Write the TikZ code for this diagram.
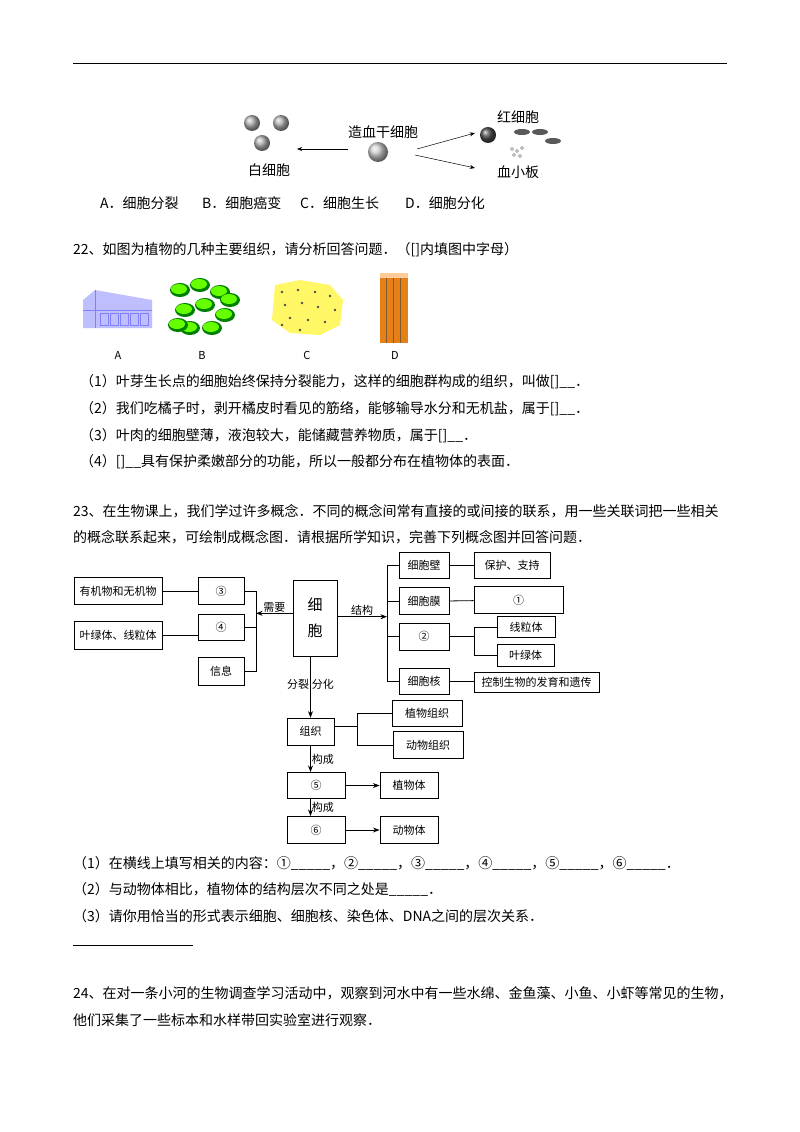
\documentclass[tikz,border=0pt]{standalone}
\usepackage{fontspec}
\setmainfont{Noto Sans CJK SC}
\usetikzlibrary{arrows.meta,positioning,calc}

\begin{document}
\begin{tikzpicture}[x=1pt,y=-1pt,>=Stealth]
  \tikzset{
    txt/.style={anchor=west, inner sep=0pt, font=\fontsize{14}{16}\selectfont},
    cbox/.style={draw, line width=0.9pt, inner sep=1pt, font=\fontsize{11}{13}\selectfont},
    link/.style={line width=0.8pt},
    lab/.style={font=\fontsize{11}{13}\selectfont, inner sep=1pt}
  }
  \useasboundingbox[fill=white] (0,0) rectangle (800,1132);
  \draw[line width=0.8pt] (73,63) -- (727,63);
  % blood cells
  \foreach \cx/\cy in {252/123, 281/123, 262/143}{
    \shade[ball color=gray!60] (\cx,\cy) circle (8);
  }
  \shade[ball color=gray!40] (378,152) circle (10);
  \shade[ball color=black!70] (488,135) circle (8);
  \foreach \cx/\cy in {522/132, 540/132, 553/141}{
    \fill[gray!70!black] (\cx,\cy) ellipse (8 and 3);
  }
  \foreach \cx/\cy in {512/149, 517/151, 522/148, 514/155, 520/156}{
    \draw[gray] (\cx,\cy) circle (1.5);
  }
  \node[txt] (bxb) at (248,170) {白细胞};
  \node[txt] (zx) at (348,132) {造血干细胞};
  \node[txt] (hxb) at (497,117) {红细胞};
  \node[txt] (xxb) at (497,172) {血小板};
  \draw[->, line width=0.5pt] (348,149) -- (297,149);
  \draw[->, line width=0.5pt] (417,149) -- (475,133);
  \draw[->, line width=0.5pt] (415,155) -- (475,168);
  % options
  \node[txt] (oa) at (100,203) {A．细胞分裂};
  \node[txt] (ob) at (202,203) {B．细胞癌变};
  \node[txt] (oc) at (300,203) {C．细胞生长};
  \node[txt] (od) at (405,203) {D．细胞分化};
  \node[txt] (q22) at (73,250) {22、如图为植物的几种主要组织，请分析回答问题．（[]内填图中字母）};
  % tissues
  \fill[blue!25] (83,300) -- (95,290) -- (152,300) -- (152,328) -- (83,328) -- cycle;
  \draw[blue!50] (83,310) -- (152,310) (95,290) -- (95,328);
  \foreach \i in {0,...,4}{ \draw[blue!50] (100+10*\i,313) rectangle ++(8,12); }
  \foreach \cx/\cy in {180/290, 200/285, 220/292, 185/310, 205/305, 225/315, 190/328, 212/328, 230/300, 178/325}{
    \fill[green!50!black] (\cx,\cy) ellipse (10 and 7);
    \fill[green!60!yellow] (\cx-1,\cy-1) ellipse (8 and 5);
  }
  \fill[yellow!60] (275,285) -- (300,280) -- (330,285) -- (343,300) -- (340,325) -- (320,335) -- (290,333) -- (272,320) -- cycle;
  \foreach \cx/\cy in {282/292, 298/290, 315/292, 330/296, 285/305, 302/303, 318/307, 335/310, 290/318, 308/320, 325/322, 300/330, 282/325}{
    \fill[black!70] (\cx,\cy) circle (1.4);
  }
  \fill[orange!60!brown] (380,276) rectangle (408,343);
  \foreach \xx in {386,393,400}{ \draw[brown!70!black] (\xx,276) -- (\xx,343); }
  \fill[orange!40] (380,273) rectangle (408,278);
  \node[lab] (ta) at (118,355) {A};
  \node[lab] (tb) at (202,355) {B};
  \node[lab] (tc) at (307,355) {C};
  \node[lab] (td) at (395,355) {D};
  \node[txt] (p1) at (80,382) {（1）叶芽生长点的细胞始终保持分裂能力，这样的细胞群构成的组织，叫做[]\_\_．};
  \node[txt] (p2) at (80,409) {（2）我们吃橘子时，剥开橘皮时看见的筋络，能够输导水分和无机盐，属于[]\_\_．};
  \node[txt] (p3) at (80,436) {（3）叶肉的细胞壁薄，液泡较大，能储藏营养物质，属于[]\_\_．};
  \node[txt] (p4) at (80,462) {（4）[]\_\_具有保护柔嫩部分的功能，所以一般都分布在植物体的表面．};
  \node[txt] (q23a) at (73,511) {23、在生物课上，我们学过许多概念．不同的概念间常有直接的或间接的联系，用一些关联词把一些相关};
  \node[txt] (q23b) at (73,537) {的概念联系起来，可绘制成概念图．请根据所学知识，完善下列概念图并回答问题．};
  % concept map
  \node[cbox, minimum width=88, minimum height=27] (yj) at (118,591.3) {有机物和无机物};
  \node[cbox, minimum width=46, minimum height=27] (n3) at (221,591.3) {③};
  \node[cbox, minimum width=88, minimum height=28] (yl) at (118,635.5) {叶绿体、线粒体};
  \node[cbox, minimum width=46, minimum height=26] (n4) at (221,627.2) {④};
  \node[cbox, minimum width=46, minimum height=28] (xx) at (221,671.2) {信息};
  \node[cbox, minimum width=44, minimum height=76, align=center, font=\fontsize{15}{26}\selectfont] (xb) at (315,618) {细\\胞};
  \node[cbox, minimum width=50, minimum height=26] (bi) at (424,565.5) {细胞壁};
  \node[cbox, minimum width=76, minimum height=26] (bh) at (512,565.5) {保护、支持};
  \node[cbox, minimum width=50, minimum height=27] (mo) at (424,601.3) {细胞膜};
  \node[cbox, minimum width=89, minimum height=27] (n1) at (518.5,600) {①};
  \node[cbox, minimum width=50, minimum height=27] (n2) at (424,636.7) {②};
  \node[cbox, minimum width=58, minimum height=21] (xl) at (526,627) {线粒体};
  \node[cbox, minimum width=57, minimum height=22] (ylt) at (525.5,655.8) {叶绿体};
  \node[cbox, minimum width=50, minimum height=26] (he) at (424,681.2) {细胞核};
  \node[cbox, minimum width=125, minimum height=20] (kz) at (536.5,682.5) {控制生物的发育和遗传};
  \node[cbox, minimum width=47, minimum height=27] (zz) at (310.5,731.7) {组织};
  \node[cbox, minimum width=70, minimum height=26] (zw) at (427,713) {植物组织};
  \node[cbox, minimum width=70, minimum height=27] (dw) at (428,745) {动物组织};
  \node[cbox, minimum width=58, minimum height=26] (n5) at (316,785.5) {⑤};
  \node[cbox, minimum width=58, minimum height=26] (zt) at (409,785.5) {植物体};
  \node[cbox, minimum width=58, minimum height=27] (n6) at (316,830) {⑥};
  \node[cbox, minimum width=58, minimum height=27] (dt) at (409,830) {动物体};
  \coordinate (lb) at (256,613.3);
  \coordinate (rb) at (387,616.7);
  \coordinate (b2) at (474,636.7);
  \coordinate (b3) at (357,726.7);
  \draw[link] (yj) -- (n3);
  \draw[link] (yl.east) -- (yl.east -| n4.west);
  \draw[link] (n3.east) -- (n3.east -| lb) -- (xx.east -| lb) -- (xx.east);
  \draw[link] (n4.east) -- (n4.east -| lb);
  \draw[link, ->] (xb.west |- lb) -- node[lab, above] {需要} (lb);
  \draw[link, ->] (xb.east |- rb) -- node[lab, above] {结构} (rb);
  \draw[link] (bi.west) -- (bi.west -| rb) -- (he.west -| rb) -- (he.west);
  \draw[link] (mo.west -| rb) -- (mo.west);
  \draw[link] (n2.west -| rb) -- (n2.west);
  \draw[link] (bi) -- (bh);
  \draw[link] (mo) -- (n1);
  \draw[link] (he.east) -- (kz.west |- he.east);
  \draw[link] (n2.east) -- (b2);
  \draw[link] (xl.west) -- (xl.west -| b2) -- (ylt.west -| b2) -- (ylt.west);
  \draw[link, ->] (xb.south -| zz) -- node[lab, pos=0.45, left] {分裂} node[lab, pos=0.45, right] {分化} (zz.north);
  \draw[link] (zz.east |- b3) -- (b3);
  \draw[link] (zw.west) -- (zw.west -| b3) -- (dw.west -| b3) -- (dw.west);
  \draw[link, ->] (zz.south) -- node[lab, right] {构成} (n5.north -| zz.south);
  \draw[link, ->] (n5.south -| zz.south) -- node[lab, right] {构成} (n6.north -| zz.south);
  \draw[link, ->] (n5) -- (zt);
  \draw[link, ->] (n6) -- (dt);
  \node[txt] (a1) at (73,863) {（1）在横线上填写相关的内容：①\_\_\_\_\_，②\_\_\_\_\_，③\_\_\_\_\_，④\_\_\_\_\_，⑤\_\_\_\_\_，⑥\_\_\_\_\_．};
  \node[txt] (a2) at (73,889) {（2）与动物体相比，植物体的结构层次不同之处是\_\_\_\_\_．};
  \node[txt] (a3) at (73,916) {（3）请你用恰当的形式表示细胞、细胞核、染色体、DNA之间的层次关系．};
  \draw[line width=0.5pt] (73,945) -- (193,945);
  \node[txt] (q24a) at (73,993) {24、在对一条小河的生物调查学习活动中，观察到河水中有一些水绵、金鱼藻、小鱼、小虾等常见的生物，};
  \node[txt] (q24b) at (73,1020) {他们采集了一些标本和水样带回实验室进行观察．};
\end{tikzpicture}
\end{document}
